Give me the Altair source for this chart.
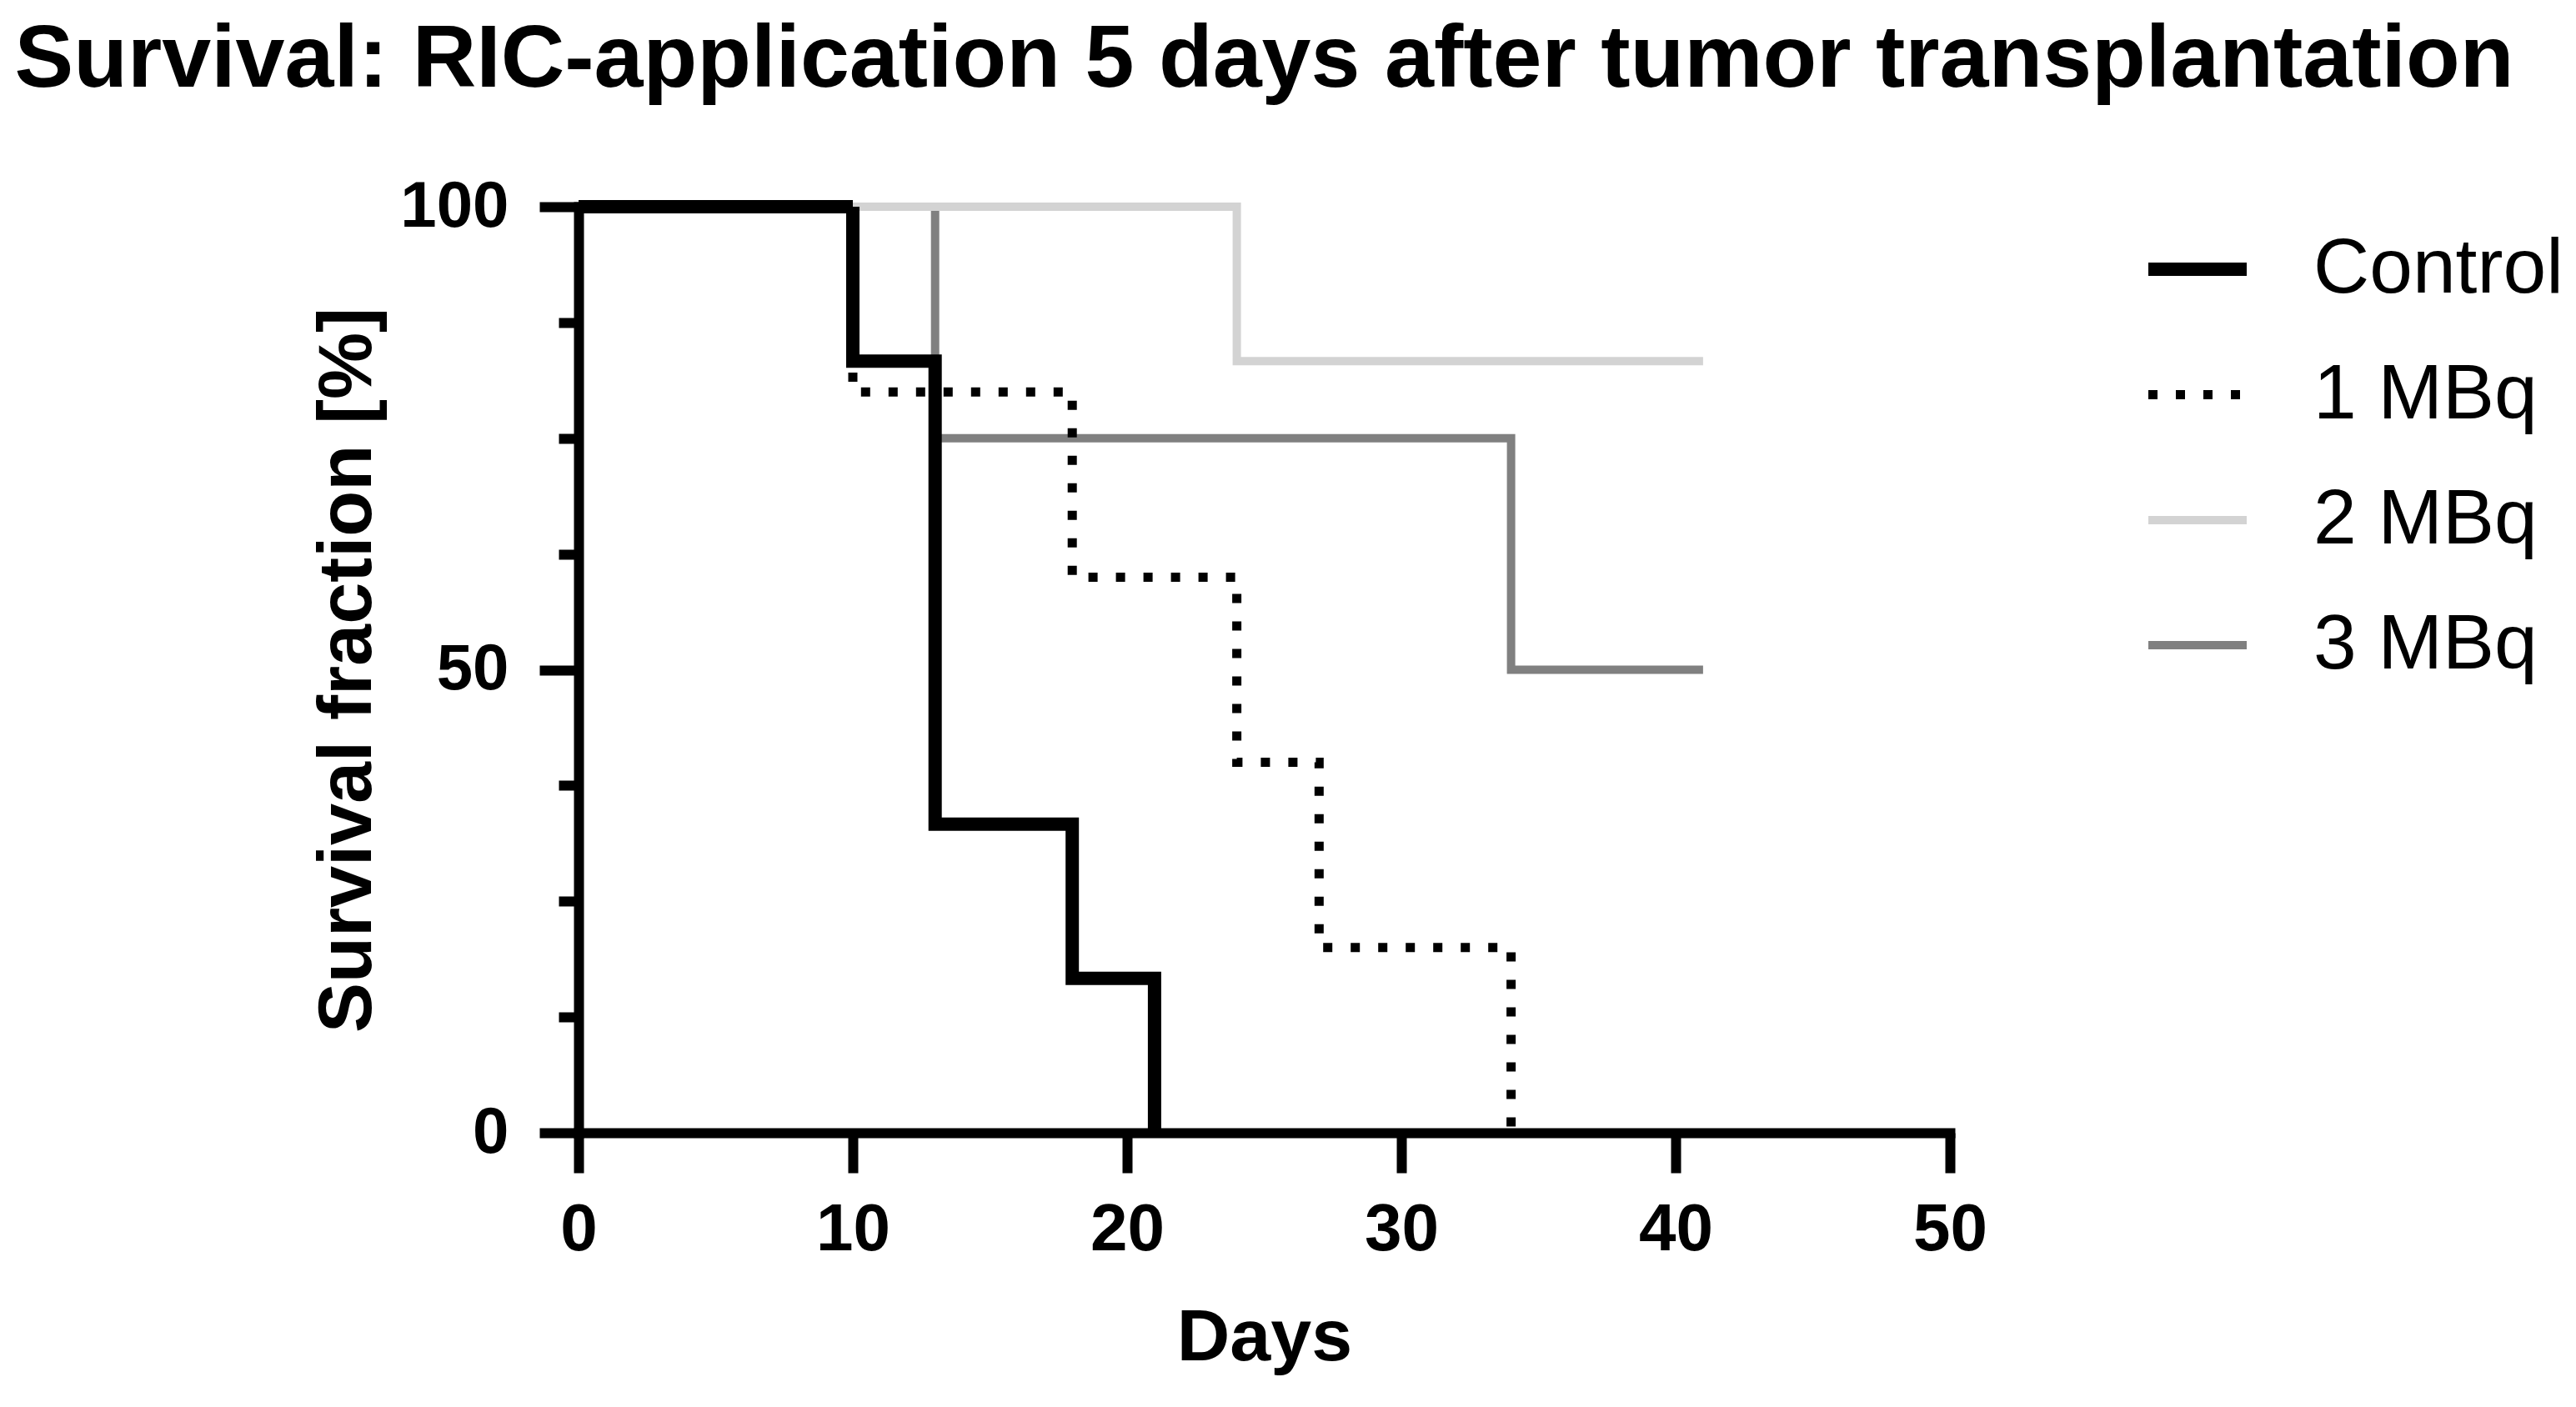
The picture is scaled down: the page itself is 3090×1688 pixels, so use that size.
import altair as alt
import pandas as pd

# ---- data ----
groups = ["Control", "1 MBq", "2 MBq", "3 MBq"]
colors = ["#000000", "#000000", "#d3d3d3", "#808080"]
dashes = [[1, 0], [11, 22], [1, 0], [1, 0]]
widths = [16, 11, 10, 10]

control_days = [0, 10, 13, 18, 21]
control_surv = [100, 83.33, 33.33, 16.67, 0]
mbq1_days = [0, 10, 18, 24, 27, 34]
mbq1_surv = [100, 80, 60, 40, 20, 0]
mbq2_days = [0, 24, 41]
mbq2_surv = [100, 83.33, 83.33]
mbq3_days = [0, 13, 34, 41]
mbq3_surv = [100, 75, 50, 50]

x_ticks = [0, 10, 20, 30, 40, 50]
y_ticks = [0, 12.5, 25, 37.5, 50, 62.5, 75, 87.5, 100]

FONT = "Liberation Sans"

rows = []
for name, days, surv in [("3 MBq", mbq3_days, mbq3_surv),
                         ("2 MBq", mbq2_days, mbq2_surv),
                         ("1 MBq", mbq1_days, mbq1_surv),
                         ("Control", control_days, control_surv)]:
    for d, s in zip(days, surv):
        rows.append({"group": name, "day": d, "surv": s})
df = pd.DataFrame(rows)

leg = alt.Legend(
    orient="none", legendX=1875, legendY=8,
    symbolType="stroke", symbolSize=118 * 118,
    labelFontSize=93, labelFont=FONT, labelColor="black",
    labelOffset=72, labelLimit=1000, rowPadding=39, padding=0,
)

chart = alt.Chart(df).mark_line(
    interpolate="step-after", strokeJoin="miter", strokeCap="butt"
).encode(
    x=alt.X("day:Q", scale=alt.Scale(domain=[0, 50], nice=False, zero=False),
            axis=alt.Axis(values=x_ticks, title="Days", format="d",
                          titleFontSize=88, titleFontWeight="bold", titlePadding=46,
                          labelFontSize=80, labelFontWeight="bold", labelPadding=29,
                          tickSize=48, tickWidth=12, domainWidth=12,
                          domainCap="square", labelFlush=False, labelOverlap=False,
                          grid=False)),
    y=alt.Y("surv:Q", scale=alt.Scale(domain=[0, 100], nice=False),
            axis=alt.Axis(values=y_ticks, title="Survival fraction [%]",
                          labelExpr="datum.value % 50 === 0 ? datum.label : ''",
                          tickSize={"condition": {"test": "datum.value % 50 === 0", "value": 47}, "value": 24},
                          titleFontSize=90, titleFontWeight="bold", titlePadding=31,
                          labelFontSize=78, labelFontWeight="bold", labelPadding=37,
                          tickWidth=12, domainWidth=12, domainCap="square",
                          labelOverlap=False, grid=False)),
    color=alt.Color("group:N", title=None,
                    scale=alt.Scale(domain=groups, range=colors), legend=leg),
    strokeDash=alt.StrokeDash("group:N", title=None,
                              scale=alt.Scale(domain=groups, range=dashes), legend=leg),
    strokeWidth=alt.StrokeWidth("group:N", title=None,
                                scale=alt.Scale(type="ordinal", domain=groups, range=widths),
                                legend=leg),
).properties(
    width=1645, height=1111,
    autosize=alt.AutoSizeParams(type="none"),
    padding={"left": 686, "top": 240, "right": 740, "bottom": 315},
    title=alt.Title("Survival: RIC-application 5 days after tumor transplantation",
                    fontSize=106, font=FONT, fontWeight="bold", color="black",
                    anchor="middle", frame="group", dy=-79),
).configure_axis(
    labelFont=FONT, titleFont=FONT, labelColor="black", titleColor="black",
    domainColor="black", tickColor="black",
).configure_view(strokeWidth=0)

chart.save("out.html", embed_options={"renderer": "svg", "actions": False})
